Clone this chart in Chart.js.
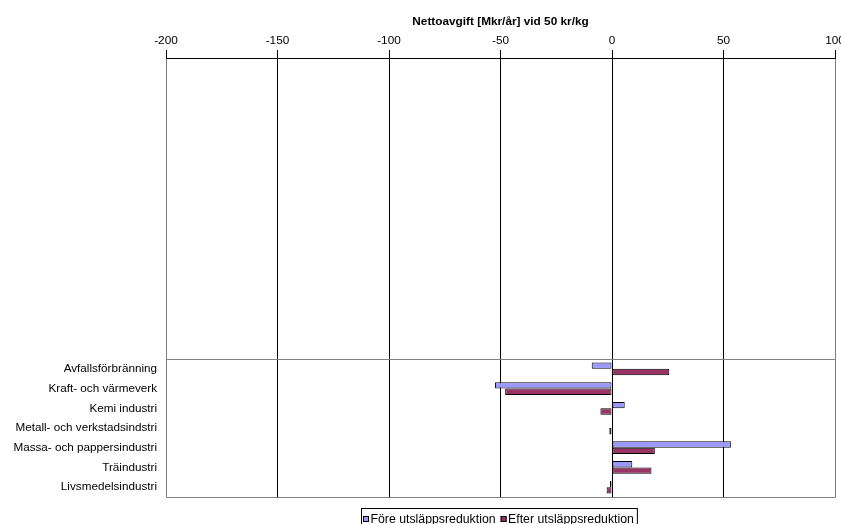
<!DOCTYPE html>
<html>
<head>
<meta charset="utf-8">
<title>Nettoavgift</title>
<script src="https://cdn.jsdelivr.net/npm/chart.js@4/dist/chart.umd.min.js"></script>
<style>
  html, body { margin: 0; padding: 0; background: #ffffff; overflow: hidden; }
  #wrap { width: 841px; height: 524px; overflow: hidden; }
  canvas { display: block; }
</style>
</head>
<body>
<div id="wrap"><canvas id="c" width="841" height="524"></canvas></div>
<script>
// Sectors (top to bottom)
const categories = [
  'Avfallsförbränning',
  'Kraft- och värmeverk',
  'Kemi industri',
  'Metall- och verkstadsindstri',
  'Massa- och pappersindustri',
  'Träindustri',
  'Livsmedelsindustri'
];

// Net fee, Mkr per year
const foreValues  = [-9.1, -52.5, 5.7, 0.5, 53.3, 9.1, -0.9];
const efterValues = [25.7, -47.9, -5.2, -1.2, 19.2, 17.7, -2.4];

const seriesNames = ['Före utsläppsreduktion', 'Efter utsläppsreduktion'];
const axisTitle = 'Nettoavgift [Mkr/år] vid 50 kr/kg';
const axisMin = -200, axisMax = 100, axisStep = 50;

const FONT = '"Liberation Sans", Arial, Helvetica, sans-serif';
const GRAY = '#808080';

// Gray frame around the plot plus the line above the category block
const frame = {
  id: 'frame',
  afterDatasetsDraw(chart) {
    const { ctx, chartArea: a } = chart;
    const yTopCat = Math.round(chart.scales.y.top) + 0.5;
    ctx.save();
    ctx.strokeStyle = GRAY;
    ctx.lineWidth = 1;
    ctx.beginPath();
    const l = Math.round(a.left) + 0.5, r = Math.round(a.right) + 0.5;
    const t = Math.round(a.top) + 0.5, b = Math.round(a.bottom) + 0.5;
    ctx.moveTo(l, t); ctx.lineTo(l, b); ctx.lineTo(r, b); ctx.lineTo(r, t);
    ctx.moveTo(l, yTopCat); ctx.lineTo(r, yTopCat);
    ctx.stroke();
    // top axis line in black
    ctx.strokeStyle = '#000';
    ctx.beginPath();
    ctx.moveTo(l, t); ctx.lineTo(r, t);
    ctx.stroke();
    ctx.restore();
  }
};

// Framed legend below the plot
const boxedLegend = {
  id: 'boxedLegend',
  afterDraw(chart) {
    const { ctx } = chart;
    const ds = chart.data.datasets;
    ctx.save();
    ctx.font = '12.3px ' + FONT;
    ctx.textBaseline = 'middle';
    const sq = 6, gapSq = 1.5, gapItem = 5;
    const startX = 363, cy = 519;
    let x = startX;
    ds.forEach((d, i) => {
      ctx.fillStyle = d.backgroundColor;
      ctx.fillRect(x, cy - 3, sq, sq);
      ctx.strokeStyle = '#000';
      ctx.lineWidth = 1;
      ctx.strokeRect(x + 0.5, cy - 3 + 0.5, sq - 1, sq - 1);
      x += sq + gapSq;
      ctx.fillStyle = '#000';
      ctx.fillText(d.label, x, cy + 0.5);
      x += ctx.measureText(d.label).width + (i < ds.length - 1 ? gapItem : 0);
    });
    ctx.strokeStyle = '#000';
    ctx.strokeRect(startX - 1.5, 508.5, x - startX + 5, 24);
    ctx.restore();
  }
};

new Chart(document.getElementById('c'), {
  type: 'bar',
  data: {
    labels: categories,
    datasets: [
      {
        label: seriesNames[0],
        data: foreValues,
        backgroundColor: '#9999FF',
        borderColor: '#000000',
        borderWidth: 1,
        borderSkipped: false,
        yAxisID: 'y'
      },
      {
        label: seriesNames[1],
        data: efterValues,
        backgroundColor: '#993366',
        borderColor: '#000000',
        borderWidth: 1,
        borderSkipped: false,
        yAxisID: 'y'
      }
    ]
  },
  options: {
    indexAxis: 'y',
    responsive: false,
    animation: false,
    devicePixelRatio: 1,
    layout: { padding: { top: 0, right: 0, bottom: 27, left: 0 } },
    datasets: { bar: { categoryPercentage: 0.65, barPercentage: 1.0 } },
    plugins: {
      legend: { display: false },
      tooltip: { enabled: false }
    },
    scales: {
      x: {
        type: 'linear',
        position: 'top',
        min: axisMin,
        max: axisMax,
        ticks: {
          stepSize: axisStep,
          color: '#000',
          padding: 2,
          font: { family: FONT, size: 11.8 },
          maxRotation: 0
        },
        grid: {
          color: (c) => (c.tick && (c.tick.value === axisMin || c.tick.value === axisMax)) ? GRAY : '#000',
          tickColor: '#000',
          lineWidth: 1,
          tickLength: 8,
          drawOnChartArea: true
        },
        border: { display: true, color: '#000' },
        title: {
          display: true,
          text: axisTitle,
          color: '#000',
          font: { family: FONT, size: 11.8, weight: 'bold' },
          padding: { top: 15, bottom: 0 }
        },
        afterFit(s) {
          s.height = 58;
          s.paddingRight = 6;
        }
      },
      y: {
        type: 'category',
        position: 'left',
        stack: 'cats',
        stackWeight: 138,
        offset: true,
        grid: { display: false },
        border: { display: false },
        ticks: {
          autoSkip: false,
          color: '#000',
          padding: 1,
          font: { family: FONT, size: 11.7 }
        },
        afterFit(s) { s.width = 166; }
      },
      yTop: {
        type: 'linear',
        position: 'left',
        stack: 'cats',
        stackWeight: 301,
        grid: { display: false },
        border: { display: false },
        ticks: { display: false },
        afterFit(s) { s.width = 166; }
      }
    }
  },
  plugins: [frame, boxedLegend]
});
</script>
</body>
</html>
